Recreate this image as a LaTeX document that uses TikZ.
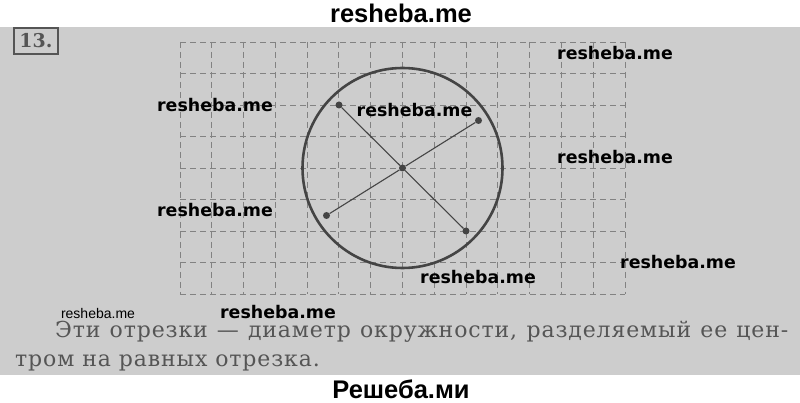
\documentclass[tikz,border=0pt]{standalone}
\usepackage{fontspec}
\setmainfont{DejaVu Serif}
\newfontfamily\bookfont[LetterSpace=4]{DejaVu Serif}
\newfontfamily\wmfont{DejaVu Sans}
\newfontfamily\arialfont{Liberation Sans}
\usepackage{tikz}
\usetikzlibrary{positioning}

\definecolor{paper}{RGB}{205,205,205}
\definecolor{ink}{RGB}{68,68,68}
\definecolor{textgray}{RGB}{85,85,85}
\definecolor{gridgray}{RGB}{130,130,130}

\tikzset{
  wm/.style={font=\wmfont\bfseries\fontsize{17.4}{20}\selectfont, inner sep=0pt},
  bigwm/.style={font=\arialfont\bfseries\fontsize{25.5}{28}\selectfont, inner sep=0pt},
  dot/.style={circle, fill=ink, inner sep=0pt, minimum size=7pt},
  gridline/.style={gridgray, dash pattern=on 6pt off 4pt, line width=0.9pt},
  diam/.style={ink, line width=1.1pt},
  textline/.style={text=textgray, font=\bookfont\fontsize{22}{29}\selectfont, inner sep=0pt, anchor=base west}
}

\begin{document}
\begin{tikzpicture}[x=1pt,y=-1pt]
  \useasboundingbox (0,0) rectangle (800,403);
  \fill[paper] (0,27) rectangle (800,375);

  % grid
  \foreach \i in {0,...,14}
    \draw[gridline] (180+\i*31.786,42) -- (180+\i*31.786,294);
  \foreach \j in {0,...,8}
    \draw[gridline] (180,42+\j*31.5) -- (625,42+\j*31.5);

  % number of the task
  \node[draw=textgray, line width=1.2pt, minimum width=44pt, minimum height=26pt,
        text=textgray, font=\bfseries\fontsize{19}{20}\selectfont] (num) at (36,41) {13.};

  % circle and diameters
  \coordinate (O) at (402.5,168);
  \draw[ink, line width=2.6pt] (O) circle (100);
  \node[dot] (c) at (O) {};
  \node[dot] (a1) at (339,105) {};
  \node[dot] (a2) at (466,231) {};
  \node[dot] (b1) at (478.5,120.5) {};
  \node[dot] (b2) at (326.5,215.5) {};
  \draw[diam] (a1) -- (c) -- (a2);
  \draw[diam] (b1) -- (c) -- (b2);

  % answer
  \node[textline] (line1) at (55,337)
    {\makebox[733pt][s]{Эти отрезки — диаметр окружности, разделяемый ее цен-}};
  \node[textline] (line2) at (15,366) {тром на равных отрезка.};

  % watermarks
  \node[bigwm] (top) at (401,13) {resheba.me};
  \node[bigwm] (bottom) at (401,389) {Решеба.ми};
  \node[wm] (wmA) at (615,53) {resheba.me};
  \node[wm] (wmB) at (215,105) {resheba.me};
  \node[wm] (wmC) at (414.5,110) {resheba.me};
  \node[wm] (wmD) at (615,157) {resheba.me};
  \node[wm] (wmE) at (215,210) {resheba.me};
  \node[wm] (wmF) at (678,262) {resheba.me};
  \node[wm] (wmG) at (478,277) {resheba.me};
  \node[wm] (wmH) at (278,312) {resheba.me};
  \node[font=\arialfont\fontsize{14}{16}\selectfont, inner sep=0pt] (wmS) at (98,313) {resheba.me};
\end{tikzpicture}
\end{document}
